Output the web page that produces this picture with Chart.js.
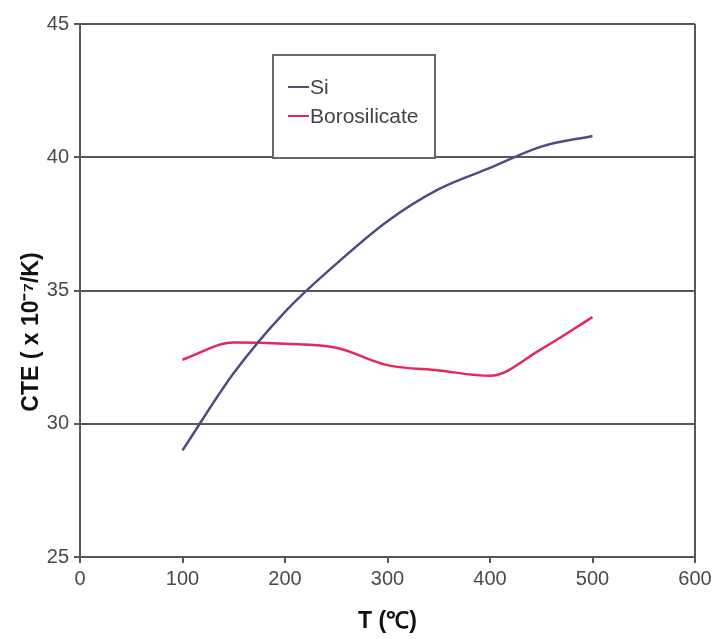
<!DOCTYPE html>
<html>
<head>
<meta charset="utf-8">
<script src="https://cdn.jsdelivr.net/npm/chart.js@4"></script>
<style>
  body { margin: 0; background: #fff; }
  #wrap { width: 717px; height: 639px; }
</style>
</head>
<body>
<div id="wrap"><canvas id="cte-chart" width="717" height="639"></canvas></div>
<script>
const temps = [100, 150, 200, 250, 300, 350, 400, 450, 500]
const siCte = [29.0, 31.9, 34.2, 36.0, 37.6, 38.8, 39.6, 40.4, 40.8]
const boroCte = [32.4, 33.05, 33.0, 32.85, 32.2, 32.0, 31.8, 32.8, 34.0]
const seriesNames = ["Si", "Borosilicate"]
const seriesColors = ["#4b4f80", "#e3285a"]

const tickFont = { family: "'Liberation Sans', Arial", size: 20 }
const gridGray = "#5a5656"

function toPoints(xs, ys) {
    return xs.map((x, i) => ({ x: x, y: ys[i] }))
}

// legend box drawn inside the plot, like the original
const boxLegend = {
    id: 'boxLegend',
    afterDatasetsDraw(chart) {
        const c = chart.ctx
        c.save()
        c.fillStyle = "#fff"
        c.fillRect(273, 55, 162, 103)
        c.strokeStyle = "#6b6767"
        c.lineWidth = 2
        c.strokeRect(273, 55, 162, 103)
        c.font = "21px 'Liberation Sans', Arial"
        c.textBaseline = "middle"
        chart.data.datasets.forEach((ds, i) => {
            const y = 87 + i * 29
            c.strokeStyle = ds.borderColor
            c.lineWidth = 2
            c.beginPath()
            c.moveTo(288, y)
            c.lineTo(309, y)
            c.stroke()
            c.fillStyle = "#444"
            c.fillText(ds.label, 310, y + 1)
        })
        c.restore()
    }
}

new Chart(document.getElementById("cte-chart"), {
    type: 'line',
    data: {
        datasets: [
            {
                label: seriesNames[0],
                data: toPoints(temps, siCte),
                borderColor: seriesColors[0],
                borderWidth: 2.5,
                pointRadius: 0,
                cubicInterpolationMode: 'monotone'
            },
            {
                label: seriesNames[1],
                data: toPoints(temps, boroCte),
                borderColor: seriesColors[1],
                borderWidth: 2.5,
                pointRadius: 0,
                cubicInterpolationMode: 'monotone'
            }
        ]
    },
    options: {
        responsive: false,
        animation: false,
        layout: { autoPadding: false, padding: { left: 0, right: 22, top: 24, bottom: 0 } },
        plugins: { legend: { display: false }, tooltip: { enabled: false } },
        scales: {
            x: {
                type: 'linear',
                min: 0,
                max: 600,
                afterFit: s => { s.height = 82 },
                ticks: { stepSize: 100, color: "#4a4a4a", font: tickFont, padding: 4 },
                grid: {
                    drawOnChartArea: true,
                    color: ctx => ctx.tick && ctx.tick.value === 600 ? gridGray : 'rgba(0,0,0,0)',
                    tickColor: gridGray,
                    tickLength: 6,
                    lineWidth: 2
                },
                border: { color: gridGray, width: 2 },
                title: {
                    display: true,
                    text: "T (℃)",
                    color: "#111",
                    font: { family: "'Liberation Sans', Arial", size: 23, weight: 'bold' },
                    padding: { top: 5 }
                }
            },
            y: {
                min: 25,
                max: 45,
                afterFit: s => { s.width = 80 },
                ticks: { stepSize: 5, color: "#4a4a4a", font: tickFont, padding: 5 },
                grid: {
                    color: gridGray,
                    tickColor: gridGray,
                    tickLength: 6,
                    lineWidth: 2
                },
                border: { color: gridGray, width: 2 },
                title: {
                    display: true,
                    // trailing spaces push the label down the axis as in the original
                    text: "CTE ( x 10⁻⁷/K)" + " ".repeat(13),
                    color: "#111",
                    font: { family: "'Liberation Sans', Arial", size: 23, weight: 'bold' },
                    padding: { top: 18, bottom: 0 }
                }
            }
        }
    },
    plugins: [boxLegend]
});
</script>
</body>
</html>
